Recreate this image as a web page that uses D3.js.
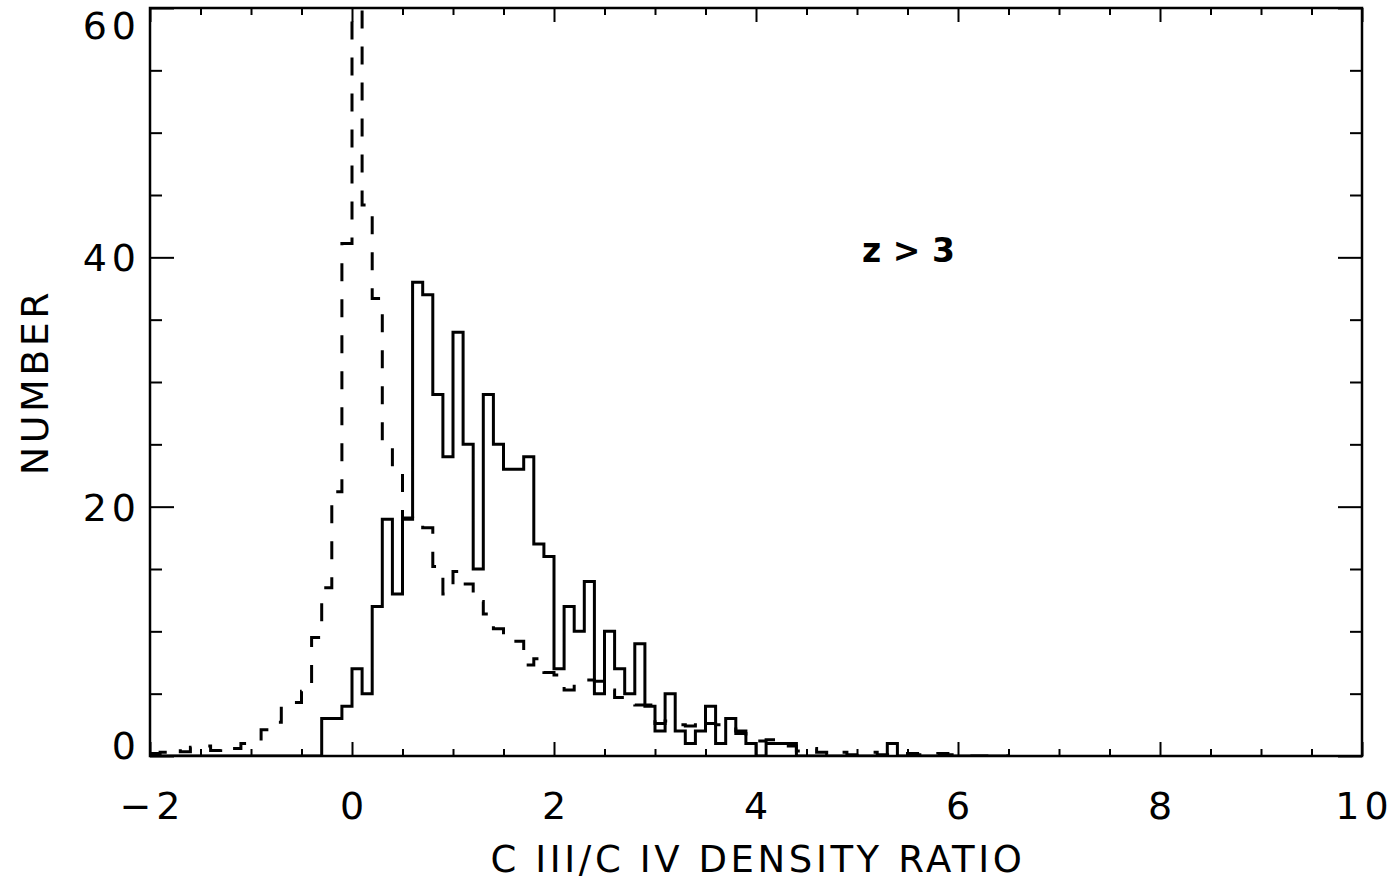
<!DOCTYPE html>
<html>
<head>
<meta charset="utf-8">
<script src="https://cdn.jsdelivr.net/npm/d3@7"></script>
<style>
  html, body { margin: 0; padding: 0; background: #fff; }
  svg { display: block; }
  text { font-family: "DejaVu Sans", sans-serif; fill: #000; }
</style>
</head>
<body>
<svg id="chart" width="1395" height="886"></svg>
<script>
// ---- data ----
const binStart = -2.0;      // left edge of first bin
const binWidth = 0.1;
// solid histogram (counts per 0.1 bin starting at -2.0)
const solidCounts = [
  0,0,0,0,0,0,0,0,0,0, 0,0,0,0,0,0,0,          // -2.0 .. -0.4
  3,3,4,                                       // -0.3 .. -0.1
  7,5,12,19,13,19,38,37,29,24,                 // 0.0 .. 0.9
  34,25,15,29,25,23,23,24,17,16,               // 1.0 .. 1.9
  7,12,10,14,5,10,7,5,9,4,                     // 2.0 .. 2.9
  2,5,2,1,2,4,1,3,2,1,                         // 3.0 .. 3.9
  0,1,1,1,0,0,0,0,0,0,                         // 4.0 .. 4.9
  0,0,0,1,0,0,0,0,0,0,                         // 5.0 .. 5.9
  0,0,0,0,0                                    // 6.0 .. 6.4
];
// dashed histogram (scaled comparison distribution), same bins
const dashedCounts = [
  0.2,0.3,0.6,0.35,0.7,0.8,0.45,0.8,0.6,1.0,   // -2.0 .. -1.1
  1.15,2.1,2.7,4.2,4.3,5.2,9.5,13.5,21.2,41.1, // -1.0 .. -0.1
  90,44.2,36.7,25.0,22.8,19.1,18.6,18.3,15.2,13.0, // 0.0 .. 0.9
  14.8,13.8,12.4,11.4,10.2,9.7,9.2,7.3,7.8,6.7,    // 1.0 .. 1.9
  6.5,5.3,5.8,6.1,6.0,5.3,4.7,4.4,4.1,4.1,         // 2.0 .. 2.9
  2.6,2.8,2.5,2.4,3.0,2.6,2.5,2.5,1.8,1.4,         // 3.0 .. 3.9
  1.2,1.3,0.8,0.8,0.4,0.6,0.3,0.1,0.3,0.1,         // 4.0 .. 4.9
  0.3,0.3,0.1,0.1,0.05,0.2,0.1,0.05,0.2,0.1,       // 5.0 .. 5.9
  0.05,0,0,0,0                                     // 6.0 .. 6.4
];
const xTicks = [-2, 0, 2, 4, 6, 8, 10];
const xTickLabels = ["\u22122", "0", "2", "4", "6", "8", "10"];
const yTicks = [0, 20, 40, 60];
const yTickLabels = ["0", "20", "40", "60"];
const xTitle = "C III/C IV DENSITY RATIO";
const yTitle = "NUMBER";
const annotation = "z > 3";

// ---- layout ----
const m = { left: 150, right: 1362, top: 8, bottom: 756 };
const svg = d3.select("#chart");

const x = d3.scaleLinear().domain([-2, 10]).range([m.left, m.right]);
const y = d3.scaleLinear().domain([0, 60]).range([m.bottom, m.top]);

svg.append("defs").append("clipPath").attr("id", "plotclip")
  .append("rect").attr("x", m.left).attr("y", m.top)
  .attr("width", m.right - m.left).attr("height", m.bottom - m.top);

function stepPoints(counts) {
  const pts = counts.map((c, i) => [binStart + i * binWidth, c]);
  pts.push([binStart + counts.length * binWidth, counts[counts.length - 1]]);
  return pts;
}
const line = d3.line().x(d => x(d[0])).y(d => y(d[1])).curve(d3.curveStepAfter);

const g = svg.append("g").attr("clip-path", "url(#plotclip)");
g.append("path").attr("d", line(stepPoints(dashedCounts)))
  .attr("fill", "none").attr("stroke", "#000").attr("stroke-width", 3)
  .attr("stroke-dasharray", "18,18");
g.append("path").attr("d", line(stepPoints(solidCounts)))
  .attr("fill", "none").attr("stroke", "#000").attr("stroke-width", 3);

// ---- axes (IDL style: ticks inward on all four sides) ----
const axisW = 2.5;
const xAxisB = d3.axisBottom(x).tickValues(xTicks).tickSize(-14).tickFormat("");
const xAxisT = d3.axisTop(x).tickValues(xTicks).tickSize(-14).tickFormat("");
const xMinor = d3.range(-2, 10.001, 0.5).filter(v => Math.abs(v / 2 - Math.round(v / 2)) > 1e-6);
const xAxisBm = d3.axisBottom(x).tickValues(xMinor).tickSize(-7).tickFormat("");
const xAxisTm = d3.axisTop(x).tickValues(xMinor).tickSize(-7).tickFormat("");
const yAxisL = d3.axisLeft(y).tickValues(yTicks).tickSize(-24).tickFormat("");
const yAxisR = d3.axisRight(y).tickValues(yTicks).tickSize(-24).tickFormat("");
const yMinor = d3.range(0, 60.001, 5).filter(v => v % 20 !== 0);
const yAxisLm = d3.axisLeft(y).tickValues(yMinor).tickSize(-12).tickFormat("");
const yAxisRm = d3.axisRight(y).tickValues(yMinor).tickSize(-12).tickFormat("");

function styleAxis(sel) {
  sel.select(".domain").remove();
  sel.selectAll(".tick line").attr("stroke", "#000").attr("stroke-width", 2);
}
svg.append("g").attr("transform", `translate(0,${m.bottom})`).call(xAxisB).call(styleAxis);
svg.append("g").attr("transform", `translate(0,${m.bottom})`).call(xAxisBm).call(styleAxis);
svg.append("g").attr("transform", `translate(0,${m.top})`).call(xAxisT).call(styleAxis);
svg.append("g").attr("transform", `translate(0,${m.top})`).call(xAxisTm).call(styleAxis);
svg.append("g").attr("transform", `translate(${m.left},0)`).call(yAxisL).call(styleAxis);
svg.append("g").attr("transform", `translate(${m.left},0)`).call(yAxisLm).call(styleAxis);
svg.append("g").attr("transform", `translate(${m.right},0)`).call(yAxisR).call(styleAxis);
svg.append("g").attr("transform", `translate(${m.right},0)`).call(yAxisRm).call(styleAxis);

svg.append("rect").attr("x", m.left).attr("y", m.top)
  .attr("width", m.right - m.left).attr("height", m.bottom - m.top)
  .attr("fill", "none").attr("stroke", "#000").attr("stroke-width", axisW);

// tick labels
const fs = 38, ls = 5;
svg.append("g").selectAll("text").data(xTicks).join("text")
  .attr("x", d => x(d) + ls / 2).attr("y", m.bottom + 63)
  .attr("text-anchor", "middle").attr("font-size", fs)
  .attr("letter-spacing", ls)
  .text((d, i) => xTickLabels[i]);
svg.append("g").selectAll("text").data(yTicks).join("text")
  .attr("x", m.left - 14 + ls)
  .attr("y", d => Math.min(Math.max(y(d), m.top + 17), m.bottom - 11) + 14)
  .attr("text-anchor", "end").attr("font-size", fs)
  .attr("letter-spacing", ls)
  .text((d, i) => yTickLabels[i]);

// titles
svg.append("text").attr("x", 756 + 2).attr("y", 872)
  .attr("text-anchor", "middle").attr("font-size", 37)
  .attr("letter-spacing", 3.6).text(xTitle);
svg.append("text")
  .attr("transform", `translate(48,${382}) rotate(-90)`)
  .attr("text-anchor", "middle").attr("font-size", 38)
  .attr("letter-spacing", 3.5).text(yTitle);

// annotation
svg.append("text").attr("x", x(5.05)).attr("y", y(39.6))
  .attr("font-size", 33).attr("font-weight", "bold").text(annotation);
</script>
</body>
</html>
